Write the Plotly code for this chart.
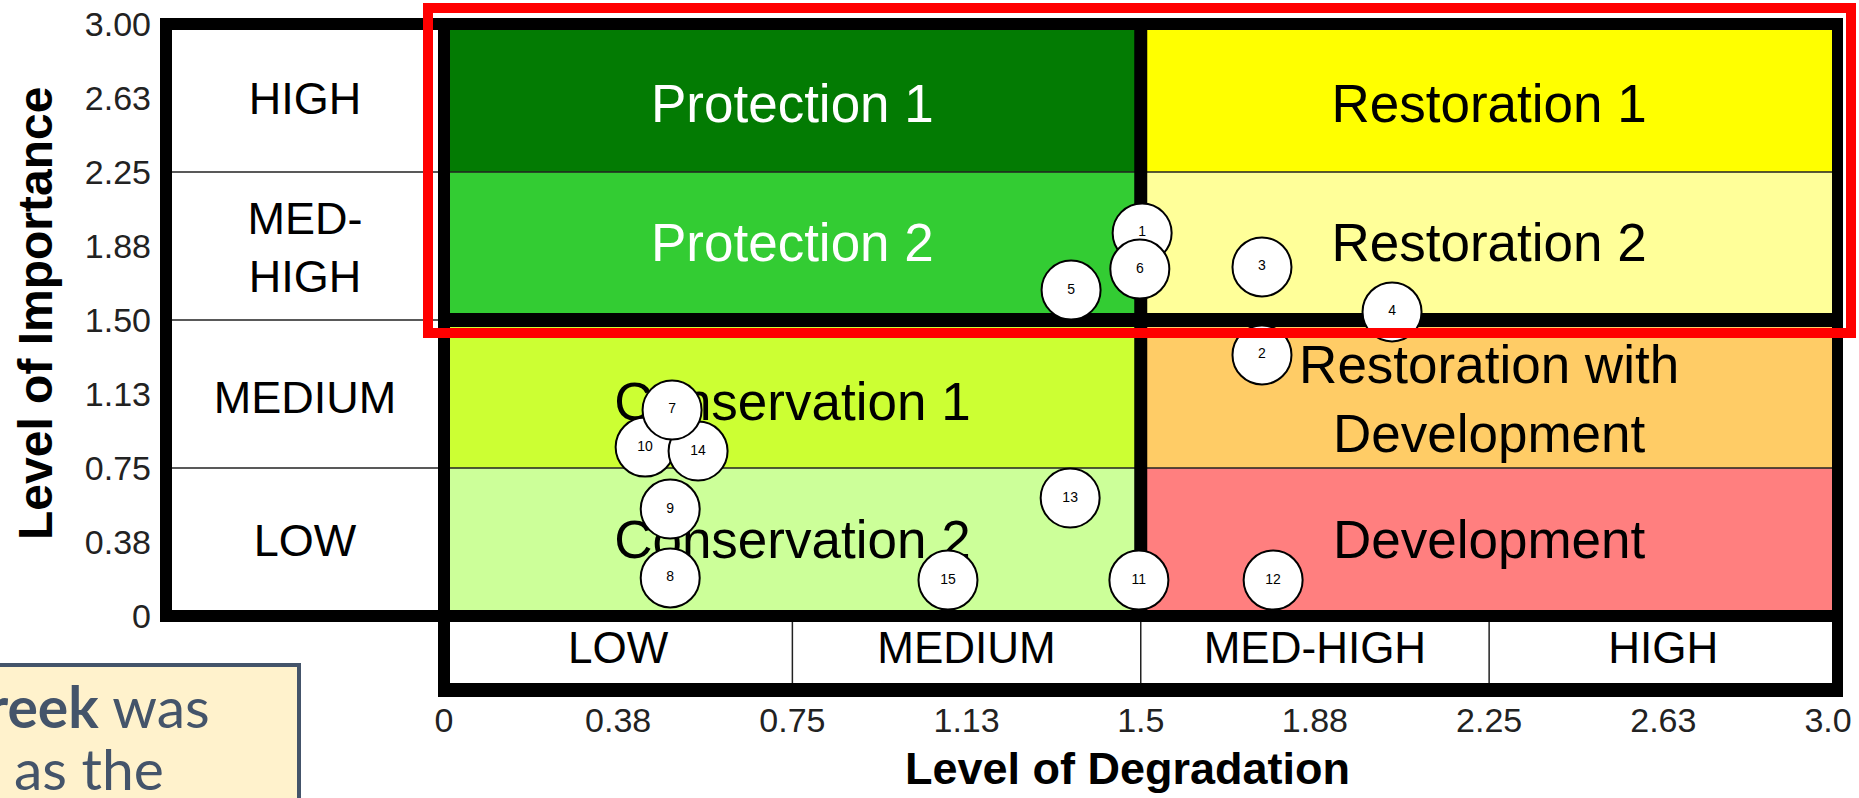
import plotly.graph_objects as go

# ---------------- data ----------------
tick_vals = [0, 0.375, 0.75, 1.125, 1.5, 1.875, 2.25, 2.625, 3.0]
x_tick_text = ["0", "0.38", "0.75", "1.13", "1.5", "1.88", "2.25", "2.63", "3.0\u00a0\u00a0"]
y_tick_text = ["0", "0.38", "0.75", "1.13", "1.50", "1.88", "2.25", "2.63", "3.00"]

importance_levels = ["LOW", "MEDIUM", "MED-<br>HIGH", "HIGH"]      # bottom -> top
importance_bounds = [0, 0.75, 1.5, 2.25, 3.0]
degradation_levels = ["LOW", "MEDIUM", "MED-HIGH", "HIGH"]        # left -> right
degradation_bounds = [0, 0.75, 1.5, 2.25, 3.0]

zone_names = ["Protection 1", "Protection 2", "Conservation 1", "Conservation 2",
              "Restoration 1", "Restoration 2", "Restoration with<br>Development", "Development"]
zone_x0 = [0, 0, 0, 0, 1.5, 1.5, 1.5, 1.5]
zone_x1 = [1.5, 1.5, 1.5, 1.5, 3.0, 3.0, 3.0, 3.0]
zone_y0 = [2.25, 1.5, 0.75, 0, 2.25, 1.5, 0.75, 0]
zone_y1 = [3.0, 2.25, 1.5, 0.75, 3.0, 2.25, 1.5, 0.75]
zone_colors = ["#037B03", "#33CC33", "#CCFF33", "#CCFF99",
               "#FFFF00", "#FFFF99", "#FFCC66", "#FF7F7F"]
zone_text_colors = ["white", "white", "black", "black", "black", "black", "black", "black"]

# sites (listed in drawing order)
site_ids = ["1", "6", "5", "3", "4", "2", "10", "14", "7", "9", "8", "15", "13", "11", "12"]
site_degradation = [1.503, 1.498, 1.350, 1.761, 2.041, 1.761, 0.433, 0.547, 0.491,
                    0.487, 0.487, 1.085, 1.348, 1.496, 1.785]
site_importance = [1.941, 1.758, 1.652, 1.769, 1.541, 1.323, 0.856, 0.836, 1.044,
                   0.542, 0.193, 0.182, 0.598, 0.182, 0.182]

x_title = "Level of Degradation"
y_title = "Level of Importance"
note_line1 = "<b>reek</b> was"
note_line2 = "as the"

# ---------------- layout geometry (pixels) ----------------
W, H = 1859, 798
PL, PR, PT, PB = 160, 1843, 18, 697          # plot area in page pixels
X0PX, XSC = 444, 464.5                       # pixel of x=0, px per unit
Y0PX, YSC = 616, 197.33                      # pixel of y=0, px per unit

# small vertical nudges (px, downwards) for label placement
zone_label_nudge = [10.5, 1.5, 12.5, 2.5, 10.5, 1.5, 10.5, 2.5]
level_label_nudge = [2.5, 8, 5.5, 4.5]

FONT = "Liberation Sans, Arial, Helvetica, sans-serif"


def dx(px):
    return (px - X0PX) / XSC


def dy(py):
    return (Y0PX - py) / YSC


def pxp(px):
    return (px - PL) / (PR - PL)


def pyp(py):
    return (PB - py) / (PB - PT)


xr = [dx(PL), dx(PR)]
yr = [dy(PB), dy(PT)]

shapes = []
# coloured zones
for i in range(len(zone_names)):
    shapes.append(dict(type="rect", xref="x", yref="y", x0=zone_x0[i], x1=zone_x1[i],
                       y0=zone_y0[i], y1=zone_y1[i], fillcolor=zone_colors[i],
                       line=dict(width=0), layer="below"))

thin = dict(color="#222222", width=1.5)
for yb in importance_bounds[1:-1]:
    shapes.append(dict(type="line", xref="x", yref="y", x0=dx(172), x1=3.0,
                       y0=yb, y1=yb, line=thin, layer="below"))
for xb in degradation_bounds[1:-1]:
    shapes.append(dict(type="line", xref="x", yref="y", x0=xb, x1=xb,
                       y0=dy(683), y1=dy(622), line=thin, layer="below"))


def blk(px0, px1, py0, py1):
    shapes.append(dict(type="rect", xref="x", yref="y", x0=dx(px0), x1=dx(px1),
                       y0=dy(py1), y1=dy(py0),
                       fillcolor="black", line=dict(width=0), layer="below"))


xm = X0PX + 1.5 * XSC
ym = Y0PX - 1.5 * YSC
blk(PL, PR, PT, 30)                  # top bar
blk(PL, 172, PT, 622)                # left outer
blk(438, 450, PT, PB)                # inner left (x = 0)
blk(1832, PR, PT, PB)                # right (x = 3)
blk(PL, PR, 610, 622)                # bottom of grid (y = 0)
blk(438, PR, 683, PB)                # bottom of label row
blk(xm - 6.5, xm + 6.5, 30, 610)     # middle vertical
blk(450, 1832, ym - 7, ym + 7)       # middle horizontal

# red highlight box
shapes.append(dict(type="rect", xref="paper", yref="paper", x0=pxp(428), x1=pxp(1851),
                   y0=pyp(333), y1=pyp(8), line=dict(color="#FF0000", width=10),
                   fillcolor="rgba(0,0,0,0)", layer="above"))
# note box
shapes.append(dict(type="rect", xref="paper", yref="paper", x0=pxp(-20), x1=pxp(299),
                   y0=pyp(820), y1=pyp(665), line=dict(color="#44546A", width=4),
                   fillcolor="#FFF2CC", layer="above"))

fig = go.Figure()

# zone labels
fig.add_trace(go.Scatter(
    x=[(a + b) / 2 for a, b in zip(zone_x0, zone_x1)],
    y=[(a + b) / 2 - n / YSC for a, b, n in zip(zone_y0, zone_y1, zone_label_nudge)],
    mode="text", text=zone_names,
    textfont=dict(family=FONT, size=53, color=zone_text_colors),
    hoverinfo="skip", showlegend=False))

# importance labels (left column)
fig.add_trace(go.Scatter(
    x=[dx(305)] * 4,
    y=[(importance_bounds[i] + importance_bounds[i + 1]) / 2 - level_label_nudge[i] / YSC
       for i in range(4)],
    mode="text", text=importance_levels,
    textfont=dict(family=FONT, size=45, color="black"),
    hoverinfo="skip", showlegend=False))

# degradation labels (bottom row)
fig.add_trace(go.Scatter(
    x=[(degradation_bounds[i] + degradation_bounds[i + 1]) / 2 for i in range(4)],
    y=[dy(652)] * 4,
    mode="text", text=degradation_levels,
    textfont=dict(family=FONT, size=44, color="black"),
    hoverinfo="skip", showlegend=False))

# sites
fig.add_trace(go.Scatter(
    x=site_degradation, y=site_importance, mode="markers+text", text=site_ids,
    textposition="middle center",
    marker=dict(size=59, color="white", line=dict(color="black", width=2)),
    textfont=dict(family=FONT, size=14, color="black"),
    cliponaxis=False, showlegend=False))

annotations = [
    dict(text="<b>" + x_title + "</b>", xref="paper", yref="paper", x=pxp(1127), y=pyp(768),
         showarrow=False, font=dict(family=FONT, size=45, color="black"),
         xanchor="center", yanchor="middle"),
    dict(text="<b>" + y_title + "</b>", xref="paper", yref="paper", x=pxp(35), y=pyp(314),
         showarrow=False, textangle=-90,
         font=dict(family=FONT, size=48, color="black"),
         xanchor="center", yanchor="middle"),
    dict(text=note_line1, xref="paper", yref="paper", x=pxp(212), y=pyp(706),
         showarrow=False, font=dict(family="Lato, Open Sans, sans-serif", size=57, color="#44546A"),
         xanchor="right", yanchor="middle"),
    dict(text=note_line2, xref="paper", yref="paper", x=pxp(166), y=pyp(768),
         showarrow=False, font=dict(family="Lato, Open Sans, sans-serif", size=57, color="#44546A"),
         xanchor="right", yanchor="middle"),
]

fig.update_layout(
    width=W, height=H, autosize=False,
    margin=dict(l=PL, r=W - PR, t=PT, b=H - PB, pad=0, autoexpand=False),
    paper_bgcolor="white", plot_bgcolor="white",
    shapes=shapes, annotations=annotations, showlegend=False,
    xaxis=dict(range=xr, showgrid=False, zeroline=False, showline=False, automargin=False,
               tickmode="array", tickvals=tick_vals, ticktext=x_tick_text,
               ticks="", ticklabeloverflow="allow",
               tickfont=dict(family=FONT, size=34, color="#222"),
               fixedrange=True),
    yaxis=dict(range=yr, showgrid=False, zeroline=False, showline=False, automargin=False,
               tickmode="array", tickvals=tick_vals, ticktext=y_tick_text,
               ticks="", ticklabelstandoff=8, ticklabeloverflow="allow",
               tickfont=dict(family=FONT, size=34, color="#222"),
               fixedrange=True),
)

fig.write_html("out.html", config={"displayModeBar": False},
               post_script="document.body.style.margin='0px';"
                           "document.body.style.overflow='hidden';")
